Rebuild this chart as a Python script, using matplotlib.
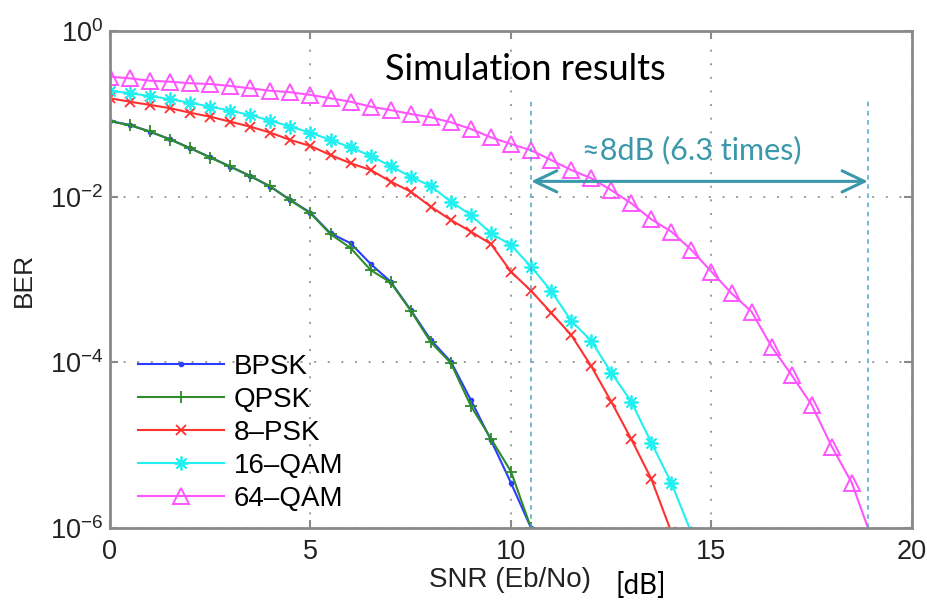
import numpy as np
import matplotlib.pyplot as plt
from matplotlib.ticker import LogLocator, NullLocator

# Eb/No grid in dB (0.5 dB steps)
snr_bpsk = np.arange(0, 22) * 0.5
ber_bpsk = [0.0819, 0.0733, 0.0608, 0.0493, 0.0384, 0.0299, 0.0230, 0.0178, 0.0132,
            0.0091, 0.0064, 0.00361, 0.00274, 0.00154, 9.4e-4, 4.28e-4, 1.86e-4,
            1.02e-4, 3.5e-5, 1.15e-5, 3.5e-6, 1.0e-6]
ber_qpsk = [0.0812, 0.0728, 0.0612, 0.0488, 0.0386, 0.0296, 0.0232, 0.0176, 0.0133,
            0.0090, 0.0063, 0.00352, 0.0024, 0.0013, 9.2e-4, 4.2e-4, 1.75e-4,
            9.8e-5, 2.97e-5, 1.2e-5, 4.8e-6, 1.0e-6]

snr_8psk = np.arange(0, 29) * 0.5
ber_8psk = [0.154, 0.140, 0.128, 0.117, 0.103, 0.0923, 0.0803, 0.070, 0.0592, 0.0483,
            0.0409, 0.0318, 0.0253, 0.0210, 0.0152, 0.0115, 0.00757, 0.00523, 0.00378,
            0.00268, 0.00124, 7.3e-4, 3.97e-4, 2.14e-4, 9.0e-5, 3.35e-5, 1.18e-5,
            3.9e-6, 8.9e-7]

snr_16qam = np.arange(0, 30) * 0.5
ber_16qam = [0.190, 0.177, 0.164, 0.150, 0.136, 0.122, 0.109, 0.0968, 0.0826, 0.070,
             0.0592, 0.0483, 0.0394, 0.031, 0.0234, 0.0174, 0.01345, 0.00869, 0.00601,
             0.00361, 0.00261, 0.00143, 7.3e-4, 3.18e-4, 1.82e-4, 7.5e-5, 3.35e-5,
             1.07e-5, 3.5e-6, 8.7e-7]

snr_64qam = np.arange(0, 39) * 0.5
ber_64qam = [0.281, 0.268, 0.251, 0.244, 0.234, 0.229, 0.217, 0.203, 0.190, 0.182,
             0.169, 0.154, 0.140, 0.122, 0.111, 0.0995, 0.0908, 0.079, 0.0656, 0.052,
             0.0432, 0.0363, 0.0277, 0.0210, 0.01667, 0.0120, 0.00831, 0.00533,
             0.00378, 0.00227, 0.00124, 6.8e-4, 4.08e-4, 1.54e-4, 7.0e-5, 3.05e-5,
             9.6e-6, 3.5e-6, 7.4e-7]

# the ~8 dB gap between 16-QAM and 64-QAM
gap_x = [10.5, 18.9]
gap_y = 0.0153

plt.rcParams['font.family'] = ['Liberation Sans', 'DejaVu Sans']
plt.rcParams['mathtext.fontset'] = 'custom'
plt.rcParams['mathtext.rm'] = 'Liberation Sans'
plt.rcParams['mathtext.it'] = 'Liberation Sans'

fig = plt.figure(figsize=(9.28, 6.01), dpi=100)
ax = fig.add_axes([110 / 928, 1 - 528 / 601, 802 / 928, 497 / 601])

ax.semilogy(snr_bpsk, ber_bpsk, color='#2b3cff', lw=1.5, marker='.', ms=6, label='BPSK')
ax.semilogy(snr_bpsk, ber_qpsk, color='#2e8b2e', lw=1.5, marker='+', ms=9, mew=1.3, label='QPSK')
ax.semilogy(snr_8psk, ber_8psk, color='#ff3030', lw=1.5, marker='x', ms=7, mew=1.3, label='8\u2013PSK')
ax.semilogy(snr_16qam, ber_16qam, color='#22f0f0', lw=1.5, marker=(8, 2, 0), ms=10, mew=1.3,
            label='16\u2013QAM')
ax.semilogy(snr_64qam, ber_64qam, color='#ff55ff', lw=1.5, marker='^', ms=11, mew=1.4,
            mfc='none', label='64\u2013QAM')

ax.set_xlim(0, 20)
ax.set_ylim(1e-6, 1)
ax.set_xticks([0, 5, 10, 15, 20])
ax.yaxis.set_major_locator(LogLocator(base=100))
ax.yaxis.set_minor_locator(NullLocator())
ax.grid(True, color='#9a9a9a', ls=(0, (1, 6)), lw=1.4)

for s in ax.spines.values():
    s.set_color('#8a8a8a')
    s.set_linewidth(2)
ax.tick_params(direction='in', length=6, width=1.5, color='#8a8a8a', labelsize=19.5,
               labelcolor='#222222', top=True, right=True)
ax.tick_params(axis='x', pad=8)
ax.tick_params(axis='y', pad=5)

ax.set_ylabel('BER', fontsize=19, color='#222222', labelpad=10)
fig.text(510 / 928, 1 - 580 / 601, 'SNR (Eb/No)', fontsize=20, color='#222222',
         ha='center', va='center')
fig.text(641 / 928, 1 - 585 / 601, '[dB]', family=['Lato', 'DejaVu Sans'], fontsize=20,
         ha='center', va='center')

leg = ax.legend(loc='upper left', bbox_to_anchor=(138 / 928, 1 - 354 / 601),
                bbox_transform=fig.transFigure, frameon=False, fontsize=20,
                handlelength=3.1, handletextpad=0.35, labelspacing=0.25,
                borderpad=0, borderaxespad=0)

# dashed limits and the double arrow
teal = '#3a98aa'
ax.vlines(gap_x, 1e-6, 0.147, colors='#4aa8c4', linestyles=(0, (3, 3)), lw=1.1)
ax.annotate('', xy=(gap_x[0], gap_y), xytext=(gap_x[1], gap_y),
            arrowprops=dict(arrowstyle='<->, head_length=0.8, head_width=0.38',
                            mutation_scale=20, color=teal, lw=2.2,
                            shrinkA=0, shrinkB=0))
fig.text(692 / 928, 1 - 150 / 601, '\u22488dB (6.3 times)', family=['Lato', 'DejaVu Sans'],
         fontsize=22, color=teal, ha='center', va='center')
fig.text(525 / 928, 1 - 70 / 601, 'Simulation results', family=['Lato', 'DejaVu Sans'],
         fontsize=26, color='black', ha='center', va='center')

fig.savefig('out.png', dpi=100)
